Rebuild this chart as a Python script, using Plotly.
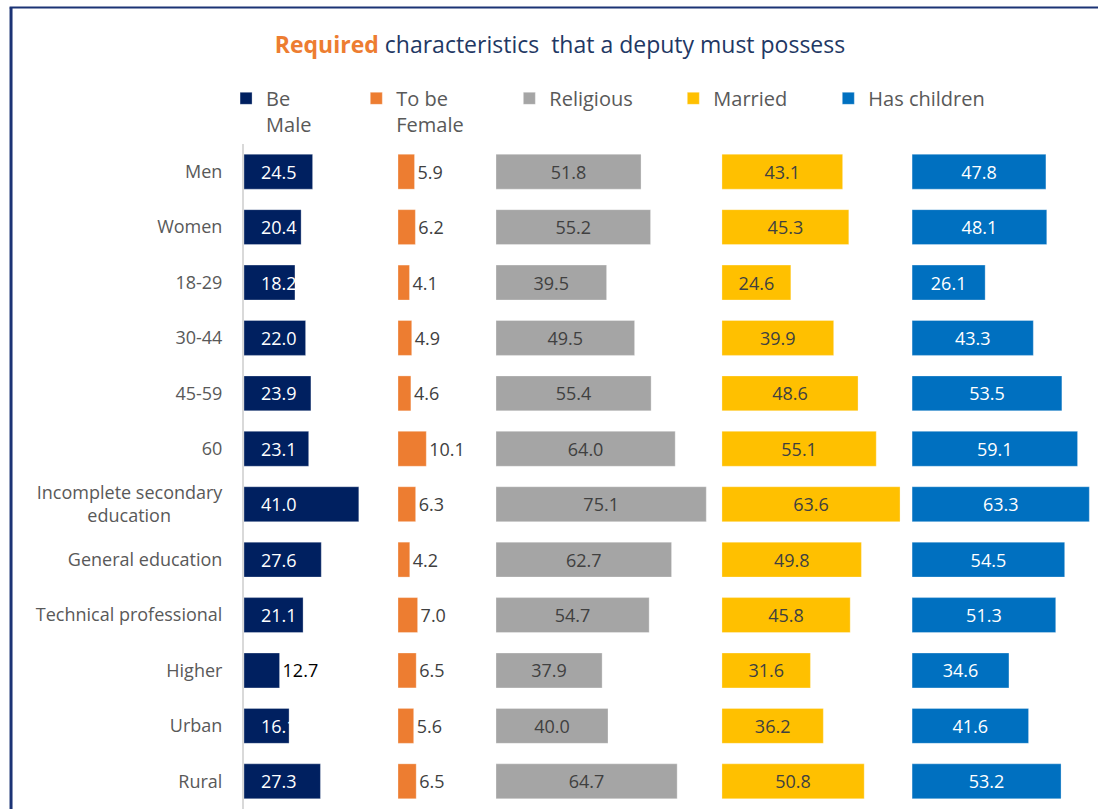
import plotly.graph_objects as go

categories = ["Men", "Women", "18-29", "30-44", "45-59", "60",
              "Incomplete secondary<br>education" + "\u00a0" * 11, "General education",
              "Technical professional", "Higher", "Urban", "Rural"]
be_male = [24.5, 20.4, 18.2, 22.0, 23.9, 23.1, 41.0, 27.6, 21.1, 12.7, 16.1, 27.3]
to_be_female = [5.9, 6.2, 4.1, 4.9, 4.6, 10.1, 6.3, 4.2, 7.0, 6.5, 5.6, 6.5]
religious = [51.8, 55.2, 39.5, 49.5, 55.4, 64.0, 75.1, 62.7, 54.7, 37.9, 40.0, 64.7]
married = [43.1, 45.3, 24.6, 39.9, 48.6, 55.1, 63.6, 49.8, 45.8, 31.6, 36.2, 50.8]
has_children = [47.8, 48.1, 26.1, 43.3, 53.5, 59.1, 63.3, 54.5, 51.3, 34.6, 41.6, 53.2]

series_names = ["Be<br>Male", "To be<br>Female", "Religious", "Married", "Has children"]
series_values = [be_male, to_be_female, religious, married, has_children]
colors = ["#002060", "#ED7D31", "#A5A5A5", "#FFC000", "#0070C0"]
bases = [0, 55, 90, 170.7, 238.6]
legend_x = [-0.021, 0.1315, 0.3107, 0.5027, 0.6842]

FONT = "Open Sans"
LBL = 18
fig = go.Figure()

for i, (name, vals, col, base) in enumerate(zip(series_names, series_values, colors, bases)):
    lg = "legend" if i == 0 else f"legend{i+1}"
    kw = {}
    if i == 0:
        positions = ["outside" if v < 14 else "inside" for v in vals]
        texts = [("\u00a0\u00a0\u00a0" if p == "inside" else "") + f"{v:.1f}" for v, p in zip(vals, positions)]
        kw = dict(text=texts, textposition=positions, insidetextanchor="start",
                  insidetextfont=dict(color="white", size=LBL, family=FONT),
                  outsidetextfont=dict(color="black", size=LBL, family=FONT))
    elif i == 1:
        kw = dict(text=[f"{v:.1f}" for v in vals], textposition="outside",
                  outsidetextfont=dict(color="#404040", size=LBL, family=FONT))
    else:
        tc = "white" if i == 4 else "#404040"
        kw = dict(text=[f"{v:.1f}" for v in vals], textposition="inside",
                  insidetextanchor="middle",
                  insidetextfont=dict(color=tc, size=LBL, family=FONT))
    fig.add_trace(go.Bar(
        y=categories, x=vals, base=[base] * len(vals), orientation="h",
        name=name, marker=dict(color=col, line=dict(color="rgba(255,255,255,0.6)", width=0.5)),
        constraintext="none", cliponaxis=False, legend=lg, showlegend=True,
        hoverinfo="skip", **kw))

legend_common = dict(orientation="h", yanchor="top", y=1.098, xanchor="left",
                     font=dict(family=FONT, size=20, color="#595959"),
                     bgcolor="rgba(0,0,0,0)", itemwidth=30, valign="top",
                     tracegroupgap=0, visible=True)
layout_legends = {}
for i, lx in enumerate(legend_x):
    key = "legend" if i == 0 else f"legend{i+1}"
    layout_legends[key] = dict(legend_common, x=lx)

fig.update_layout(
    width=1098, height=809,
    showlegend=True,
    margin=dict(l=244, r=0, t=144, b=0, autoexpand=False),
    paper_bgcolor="white", plot_bgcolor="white",
    barmode="overlay", bargap=0.37,
    title=dict(
        text="<span style='color:#ED7D31'><b>Required</b></span> characteristics\u00a0 that a deputy must possess",
        font=dict(family=FONT, size=23, color="#1F3864"),
        x=560 / 1098, xanchor="center", xref="container",
        y=1 - 45 / 809, yanchor="middle", yref="container"),
    xaxis=dict(range=[0, 305], visible=False, showgrid=False, zeroline=False),
    yaxis=dict(autorange="reversed", showgrid=False, zeroline=False,
               showline=True, linecolor="#D9D9D9", linewidth=2,
               ticks="", ticklabelstandoff=16,
               tickfont=dict(family=FONT, size=18, color="#595959")),
    shapes=[
        dict(type="line", xref="paper", yref="paper", x0=-0.2728, x1=-0.2728, y0=-0.02, y1=1.2053,
             line=dict(color="#1B3375", width=3)),
        dict(type="line", xref="paper", yref="paper", x0=-0.2745, x1=1.02, y0=1.2053, y1=1.2053,
             line=dict(color="#1B3375", width=2)),
    ],
    **layout_legends,
)

fig.write_html("out.html", config={"displayModeBar": False},
               post_script="document.body.style.margin='0px';document.body.style.overflow='hidden';")
